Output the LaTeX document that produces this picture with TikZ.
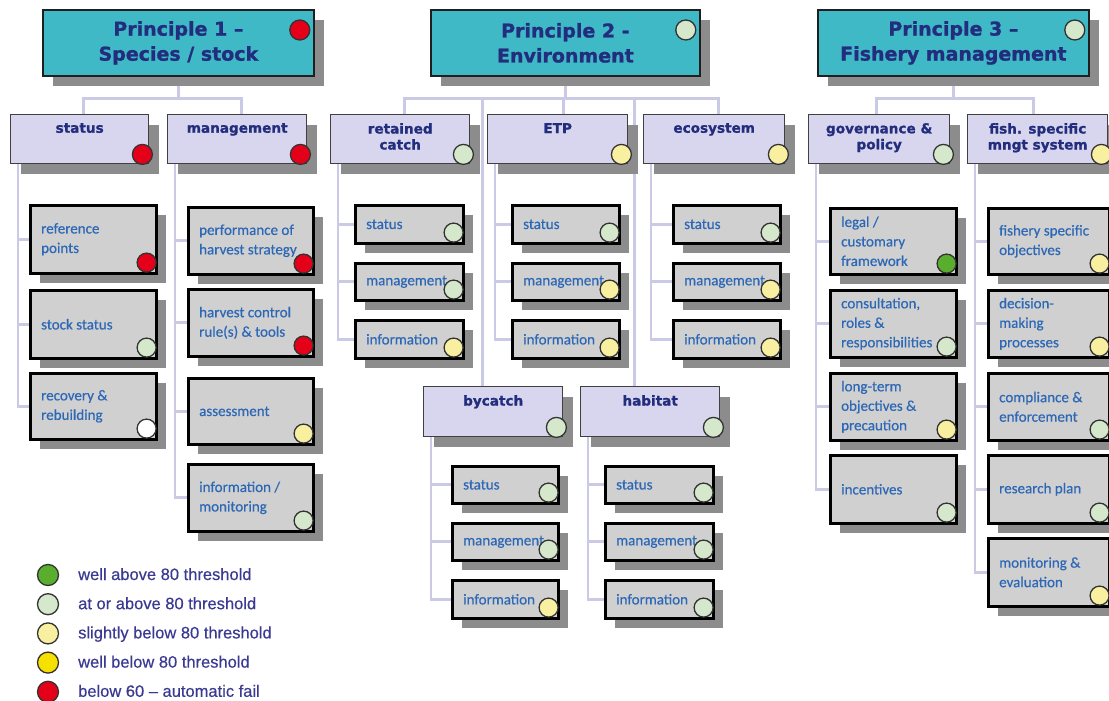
\documentclass[tikz,border=0pt]{standalone}
\usepackage{fontspec}
\setmainfont{Liberation Sans}
\newfontfamily\headfont[BoldFeatures={FakeBold=1.2}]{DejaVu Sans}
\newfontfamily\boxfont[FakeBold=0.5]{Carlito}
\newfontfamily\legfont[FakeBold=0.4]{Liberation Sans}
\usetikzlibrary{shadows,backgrounds}
\definecolor{cyanbox}{HTML}{40B9C7}
\definecolor{lavbox}{HTML}{D8D6EE}
\definecolor{graybox}{HTML}{D0D0D0}
\definecolor{shade}{HTML}{8C8C8C}
\definecolor{connc}{HTML}{CACAE6}
\definecolor{navy}{HTML}{232D7E}
\definecolor{boxblue}{HTML}{2C68B6}
\definecolor{legtext}{HTML}{3A3A92}
\definecolor{cRed}{HTML}{E5001A}
\definecolor{cLG}{HTML}{D5E8CB}
\definecolor{cLY}{HTML}{F8F0A0}
\definecolor{cG}{HTML}{5AAE2E}
\definecolor{cY}{HTML}{F6E000}
\definecolor{cW}{HTML}{FFFFFF}
\tikzset{
  shad/.style={drop shadow={shadow xshift=10pt,shadow yshift=-10pt,fill=shade,opacity=1}},
  pbox/.style={shad,draw=black!88,line width=1.8pt,fill=cyanbox,inner sep=0pt,align=center,
    text=navy,font={\headfont\bfseries\fontsize{19}{25}\selectfont}},
  l2box/.style={shad,draw=black!75,line width=1.4pt,fill=lavbox,inner sep=0pt},
  l2t/.style={inner sep=0pt,align=center,text=navy,font={\headfont\bfseries\fontsize{13.6}{16}\selectfont}},
  l3box/.style={shad,draw=black,line width=2.6pt,fill=graybox,inner sep=0pt},
  l3t/.style={inner sep=0pt,align=left,text=boxblue,font={\boxfont\fontsize{15}{19.5}\selectfont}},
  dotst/.style={circle,draw=black!80,line width=1.3pt,inner sep=0pt,minimum size=19pt},
  conn/.style={draw=connc,line width=2.8pt},
  legt/.style={inner sep=0pt,text=legtext,font={\legfont\fontsize{16.5}{20}\selectfont}}
}
\newcommand\ltwo[7]{%
  \node[l2box,anchor=north west,minimum width={#4-#2},minimum height={#5-#3}] (#1) at (#2,#3) {};
  \node[l2t,anchor=north] (#1t) at ([yshift=-9pt]#1.north) {#6};
  \node[dotst,minimum size=20pt,fill=#7] (#1d) at ([xshift=-7pt,yshift=10pt]#1.south east) {};}
\newcommand\lthree[7]{%
  \node[l3box,anchor=north west,minimum width={#4-#2},minimum height={#5-#3}] (#1) at (#2,#3) {};
  \node[l3t,anchor=west] (#1t) at ([xshift=12pt]#1.west) {#6};
  \node[dotst,fill=#7] (#1d) at ([xshift=-11pt,yshift=12pt]#1.south east) {};}
\begin{document}
\begin{tikzpicture}[x=1pt,y=-1pt]
\useasboundingbox (0,0) rectangle (1109,701);
% level 1
\node[pbox,anchor=north west,minimum width=271,minimum height=66] (p1) at (42,9) {Principle 1 –\\Species / stock};
\node[pbox,anchor=north west,minimum width=269,minimum height=66] (p2) at (430,9) {Principle 2 -\\Environment};
\node[pbox,anchor=north west,minimum width=271,minimum height=66] (p3) at (817,9) {Principle 3 –\\Fishery management};
\node[dotst,minimum size=20pt,fill=cRed] (p1d) at ([xshift=-15pt,yshift=-21pt]p1.north east) {};
\node[dotst,minimum size=20pt,fill=cLG] (p2d) at ([xshift=-15pt,yshift=-21pt]p2.north east) {};
\node[dotst,minimum size=20pt,fill=cLG] (p3d) at ([xshift=-15pt,yshift=-21pt]p3.north east) {};
% level 2
\ltwo{s1}{10}{114}{148}{163}{status}{cRed}
\ltwo{m1}{167}{114}{306}{163}{management}{cRed}
\ltwo{rc}{330}{114}{469}{163}{retained\\catch}{cLG}
\ltwo{etp}{487}{114}{627}{163}{ETP}{cLY}
\ltwo{eco}{643}{114}{784}{163}{ecosystem}{cLY}
\ltwo{gov}{808}{114}{949}{163}{governance \&\\policy}{cLG}
\ltwo{fsm}{967}{114}{1107}{163}{fish. specific\\mngt system}{cLY}
\ltwo{by}{423}{386}{562}{436}{bycatch}{cLG}
\ltwo{hab}{580}{386}{719}{436}{habitat}{cLG}
% level 3
\lthree{rp}{29}{204}{155}{272}{reference\\points}{cRed}
\lthree{ss}{29}{289}{155}{357}{stock status}{cLG}
\lthree{rr}{29}{372}{155}{438}{recovery \&\\rebuilding}{cW}
\lthree{ph}{187}{206}{312}{273}{performance of\\harvest strategy}{cRed}
\lthree{hc}{187}{288}{312}{355}{harvest control\\rule(s) \& tools}{cRed}
\lthree{as}{187}{377}{312}{443}{assessment}{cLY}
\lthree{im}{187}{463}{312}{530}{information /\\monitoring}{cLG}
\lthree{rcs}{354}{204}{462}{242}{status}{cLG}
\lthree{rcm}{354}{262}{462}{299}{management}{cLG}
\lthree{rci}{354}{319}{462}{357}{information}{cLY}
\lthree{ets}{511}{204}{618}{242}{status}{cLG}
\lthree{etm}{511}{262}{618}{299}{management}{cLY}
\lthree{eti}{511}{319}{618}{357}{information}{cLY}
\lthree{ecs}{672}{204}{779}{242}{status}{cLG}
\lthree{ecm}{672}{262}{779}{299}{management}{cLY}
\lthree{eci}{672}{319}{779}{357}{information}{cLY}
\lthree{bys}{451}{465}{557}{502}{status}{cLG}
\lthree{bym}{451}{522}{557}{559}{management}{cLG}
\lthree{byi}{451}{579}{557}{617}{information}{cLY}
\lthree{has}{604}{465}{712}{502}{status}{cLG}
\lthree{ham}{604}{522}{712}{559}{management}{cLG}
\lthree{hai}{604}{579}{712}{617}{information}{cLG}
\lthree{gl}{829}{207}{955}{273}{legal /\\customary\\framework}{cG}
\lthree{gc}{829}{289}{955}{356}{consultation,\\roles \&\\responsibilities}{cLG}
\lthree{gt}{829}{372}{955}{439}{long-term\\objectives \&\\precaution}{cLY}
\lthree{gi}{829}{454}{955}{522}{incentives}{cLG}
\lthree{fo}{987}{207}{1108}{273}{fishery specific\\objectives}{cLY}
\lthree{fd}{987}{289}{1108}{356}{decision-\\making\\processes}{cLY}
\lthree{fc}{987}{372}{1108}{439}{compliance \&\\enforcement}{cLG}
\lthree{fr}{987}{454}{1108}{522}{research plan}{cLG}
\lthree{fm}{987}{537}{1108}{605}{monitoring \&\\evaluation}{cLY}
% legend
\foreach \i/\c/\t in {0/cG/well above 80 threshold,1/cLG/at or above 80 threshold,2/cLY/slightly below 80 threshold,3/cY/well below 80 threshold,4/cRed/below 60 – automatic fail}{
  \node[dotst,minimum size=21pt,fill=\c] (ld\i) at (48,{575+29.2*\i}) {};
  \node[legt,anchor=base west] (lt\i) at (78,{580+29.2*\i}) {\t};
}
% connectors
\begin{scope}[on background layer]
\fill[white] (0,0) rectangle (1109,701);
\draw[conn] (p1.south) -- ++(0,22) -| ([xshift=4pt]s1.north);
\draw[conn] (p1.south) -- ++(0,22) -| ([xshift=4pt]m1.north);
\draw[conn] (p2.south) -- ++(0,22) -| ([xshift=4pt]rc.north);
\draw[conn] (p2.south) -- ++(0,22) -| ([xshift=6pt]etp.north);
\draw[conn] (p2.south) -- ++(0,22) -| ([xshift=4pt]eco.north);
\draw[conn] (p2.south) -- ++(0,22) -| ([xshift=-11pt]by.north);
\draw[conn] (p2.south) -- ++(0,22) -| ([xshift=-16pt]hab.north);
\draw[conn] (p3.south) -- ++(0,22) -| ([xshift=-3pt]gov.north);
\draw[conn] (p3.south) -- ++(0,22) -| ([xshift=-4pt]fsm.north);
\foreach \p/\c in {s1/rp,s1/ss,s1/rr,m1/ph,m1/hc,m1/as,m1/im,rc/rcs,rc/rcm,rc/rci,etp/ets,etp/etm,etp/eti,eco/ecs,eco/ecm,eco/eci,by/bys,by/bym,by/byi,hab/has,hab/ham,hab/hai,gov/gl,gov/gc,gov/gt,gov/gi,fsm/fo,fsm/fd,fsm/fc,fsm/fr,fsm/fm}
  \draw[conn] ([xshift=8pt]\p.south west) |- (\c.west);
\end{scope}
\end{tikzpicture}
\end{document}
